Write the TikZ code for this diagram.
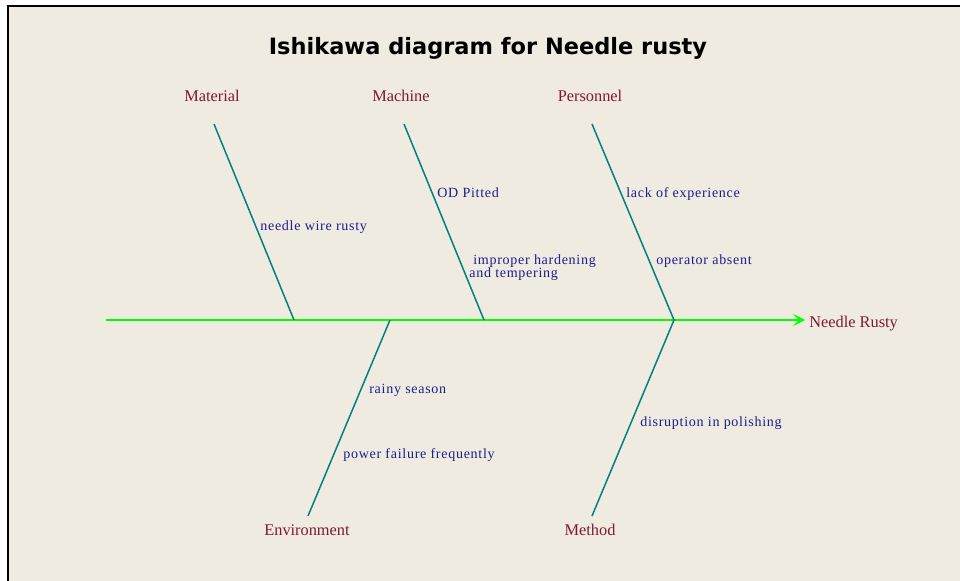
\documentclass[tikz,border=0pt]{standalone}
\usepackage{fontspec}
\setmainfont{Liberation Serif}
\newfontfamily\headfont{DejaVu Sans}
\newfontfamily\causefont[LetterSpace=5]{Liberation Serif}
\usetikzlibrary{arrows.meta}
\definecolor{paper}{HTML}{EFEBE1}
\definecolor{bonecol}{HTML}{008080}
\definecolor{spinecol}{HTML}{00FF00}
\definecolor{catcol}{HTML}{7F1A2E}
\definecolor{causecol}{HTML}{1E1E8C}

\begin{document}
\begin{tikzpicture}[x=0.02cm, y=-0.02cm,
  cat/.style={font=\fontsize{9.3}{11}\selectfont, text=catcol, inner sep=0pt, anchor=base},
  cause/.style={font=\causefont\fontsize{8}{7.4}\selectfont, text=causecol, inner sep=0pt, anchor=base west, align=left},
  bone/.style={draw=bonecol, line width=0.85pt},
  spine/.style={draw=spinecol, line width=1.1pt, -{Stealth[length=7pt,width=7pt,inset=3.5pt]}}]
\useasboundingbox (0,0) rectangle (960,581);
\fill[white] (0,0) rectangle (960,581);
\fill[paper] (8,6) rectangle (960,581);
\draw[line width=1.1pt] (8,581) -- (8,6) -- (960,6);

\node (title) [anchor=base, inner sep=0pt, font=\headfont\bfseries\fontsize{12.8}{15}\selectfont]
  at (488,55) {Ishikawa diagram for Needle rusty};

% spine
\coordinate (tail) at (106,320);
\coordinate (head) at (805,320);
\node (effect) [cat, anchor=base west] at (809,327) {Needle Rusty};
\path (tail) edge[spine] (head);

% joints on the spine
\coordinate (j1) at (294,320);
\coordinate (j2) at (390,320);
\coordinate (j3) at (484,320);
\coordinate (j4) at (674,320);

% bone ends
\coordinate (mat-top) at (214,124);
\coordinate (mach-top) at (404,124);
\coordinate (pers-top) at (592,124);
\coordinate (env-bot) at (308,516);
\coordinate (meth-bot) at (592,516);

\node (mat) [cat] at (212,102) {Material};
\node (mach) [cat] at (401,102) {Machine};
\node (pers) [cat] at (590,102) {Personnel};
\node (env) [cat] at (307,535) {Environment};
\node (meth) [cat] at (590,535) {Method};

\path[bone]
(j1) edge (mat-top)
(j2) edge (env-bot)
(j3) edge (mach-top)
(j4) edge (pers-top)
     edge (meth-bot);

% causes
\node (c-wire) [cause] at (260,230) {needle wire rusty};
\node (c-od) [cause] at (437,197) {OD Pitted};
\node (c-hard) [cause] at (469,277) {\hspace*{0.08cm}improper hardening\\and tempering};
\node (c-exp) [cause] at (626,197) {lack of experience};
\node (c-abs) [cause] at (656,264) {operator absent};
\node (c-rain) [cause] at (369,393) {rainy season};
\node (c-power) [cause] at (343,458) {power failure frequently};
\node (c-pol) [cause] at (640,426) {disruption in polishing};
\end{tikzpicture}
\end{document}
